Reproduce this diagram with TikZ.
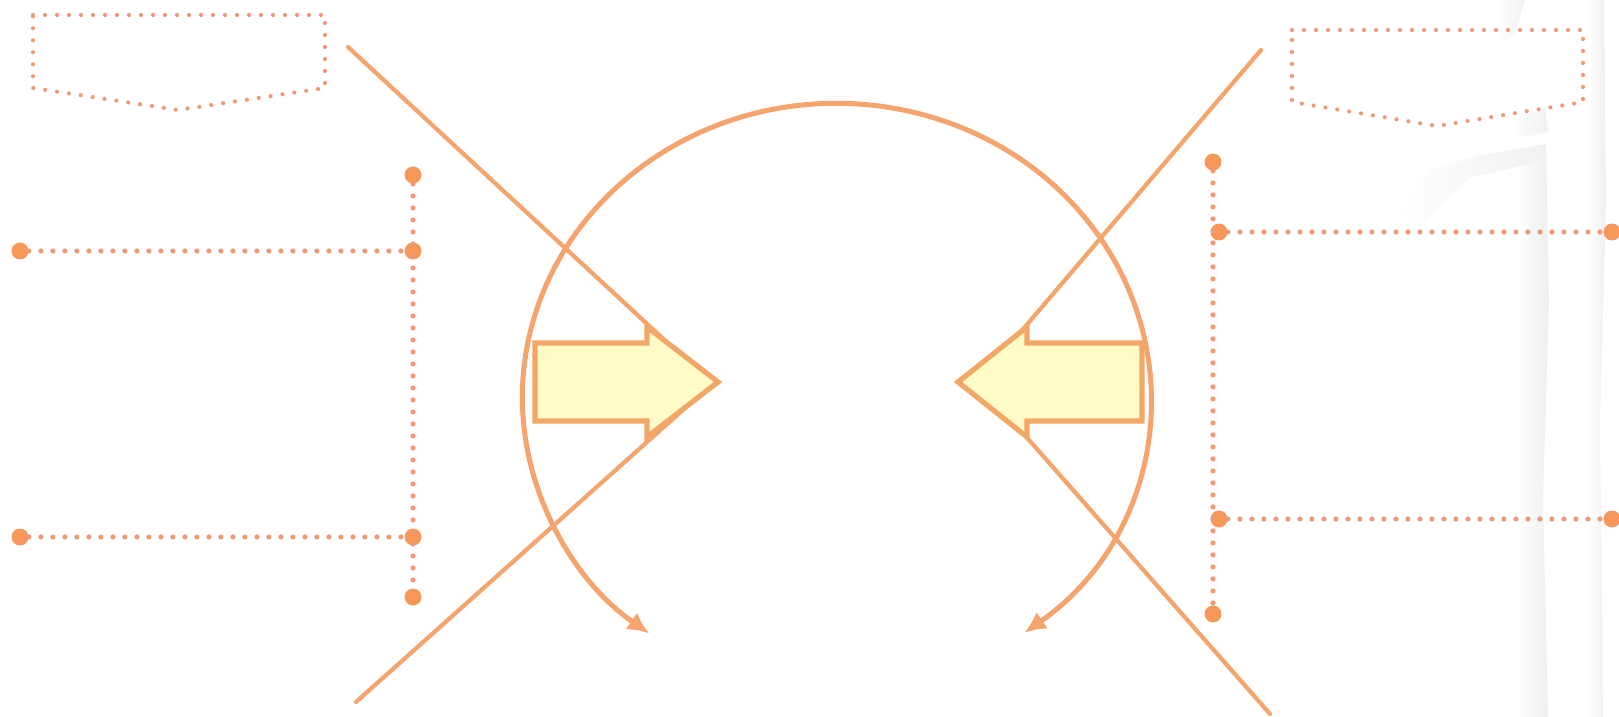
\documentclass[tikz,border=0pt]{standalone}
\usetikzlibrary{arrows.meta,calc}
\definecolor{ln}{HTML}{F4A46C}
\definecolor{dotc}{HTML}{F7975A}
\definecolor{dotl}{HTML}{EC9A78}
\definecolor{afill}{HTML}{FFFBC6}
\definecolor{aedge}{HTML}{F3A766}
\begin{document}
\begin{tikzpicture}[x=0.5pt,y=-0.5pt,
  xline/.style={draw=ln,line width=2.1pt,line cap=round},
  dotline/.style={draw=dotl,line width=2.6pt,line cap=round,dash pattern=on 0pt off 6pt},
  frameline/.style={draw=dotl,line width=2.1pt,line cap=round,line join=round,dash pattern=on 0pt off 6pt},
  enddot/.style={circle,fill=dotc,inner sep=0pt,minimum size=8.5pt},
  blockarrow/.style={fill=afill,draw=aedge,line width=2.6pt,line join=miter},
  ring/.style={draw=ln,line width=2.5pt,{Latex[length=11pt,width=10pt]}-{Latex[length=11pt,width=10pt]}},
  paperedge/.style={left color=white,right color=gray!13}]
\useasboundingbox (0,0) rectangle (1619,717);
% torn paper texture at the right
\shade[paperedge] (1515,150) -- (1546,144) -- (1549,300) -- (1543,500) -- (1548,717) -- (1520,717) -- cycle;
\shade[paperedge] (1588,0) -- (1604,0) -- (1606,200) -- (1600,420) -- (1603,717) -- (1590,717) -- cycle;
\shade[left color=white,right color=gray!11] (1395,215) -- (1430,170) -- (1480,155) -- (1540,145) -- (1545,160) -- (1470,178) -- (1420,228) -- cycle;
\shade[left color=white,right color=gray!10] (1500,0) -- (1525,0) -- (1515,35) -- (1495,45) -- cycle;
\shade[left color=white,right color=gray!11] (1510,120) -- (1545,108) -- (1548,132) -- (1518,138) -- cycle;

% dotted frames
\draw[frameline] (33,15) -- (325,15) -- (325,88) -- (178,110) -- (33,88) -- cycle;
\draw[frameline] (1292,30) -- (1583,30) -- (1583,102) -- (1437,126) -- (1292,102) -- cycle;

% left dotted bracket
\node[enddot] (lt) at (413,175) {};
\node[enddot] (lb) at (413,597) {};
\node[enddot] (lj1) at (413,251) {};
\node[enddot] (lj2) at (413,537) {};
\node[enddot] (le1) at (20,251) {};
\node[enddot] (le2) at (20,537) {};
\draw[dotline] (lt) -- (lb);
\draw[dotline] (le1) -- (lj1);
\draw[dotline] (le2) -- (lj2);

% right dotted bracket
\node[enddot] (rt) at (1213,162) {};
\node[enddot] (rb) at (1213,614) {};
\node[enddot] (rj1) at (1219,232) {};
\node[enddot] (rj2) at (1219,519) {};
\node[enddot] (re1) at (1612,232) {};
\node[enddot] (re2) at (1612,519) {};
\draw[dotline] (rt) -- (rb);
\draw[dotline] (rj1) -- (re1);
\draw[dotline] (rj2) -- (re2);

% crossing lines
\coordinate (a1) at (348,47);
\coordinate (a2) at (356,702);
\coordinate (xl) at (712,384);
\coordinate (b1) at (1261,50);
\coordinate (b2) at (1270,714);
\coordinate (xr) at (978,382);
\draw[xline] (a1) -- (xl);
\draw[xline] (a2) -- (xl);
\draw[xline] (b1) -- (xr);
\draw[xline] (b2) -- (xr);

% ring with arrows
\coordinate (rs) at (1024,633);
\draw[ring] (rs) arc[start angle=-53.3, end angle=233.5, x radius=157pt, y radius=147pt];

% block arrows
\draw[blockarrow] (535,343) -- (647,343) -- (647,327) -- (718,382) -- (647,437) -- (647,421) -- (535,421) -- cycle;
\draw[blockarrow] (1142,343) -- (1027,343) -- (1027,327) -- (958,382) -- (1027,437) -- (1027,421) -- (1142,421) -- cycle;
\end{tikzpicture}
\end{document}
